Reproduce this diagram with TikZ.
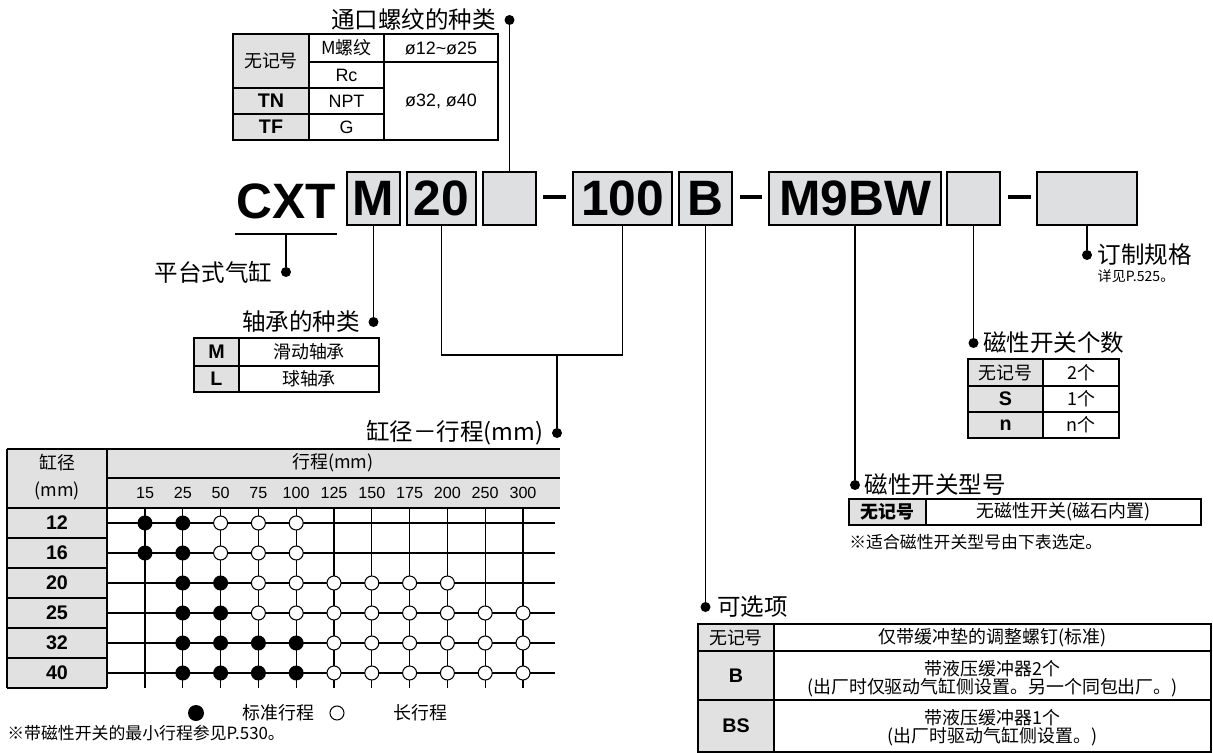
\documentclass[tikz,border=0pt]{standalone}
\usepackage{fontspec}
\setmainfont{Noto Sans CJK SC}
\newfontfamily\lat{Liberation Sans}
\usetikzlibrary{positioning}

\definecolor{boxgray}{RGB}{221,223,225}
\definecolor{cellgray}{RGB}{225,225,225}

\newcommand{\codefont}{\lat\bfseries\fontsize{28.3}{30}\selectfont}
\newcommand{\lblfont}{\fontsize{13.4}{15}\selectfont}
\newcommand{\cellfont}{\fontsize{10.2}{10.4}\selectfont}
\newcommand{\boldfont}{\lat\bfseries\fontsize{11.2}{12}\selectfont}
\newcommand{\numfont}{\lat\fontsize{9.2}{10}\selectfont}
\newcommand{\notefont}{\fontsize{9.6}{10}\selectfont}
\newcommand{\pagefont}{\fontsize{8}{9}\selectfont}

\tikzset{
  codebox/.style={draw, line width=1.4pt, fill=boxgray, minimum height=1.06cm, inner sep=0pt, font=\codefont},
  dot/.style={circle, fill=black, inner sep=0pt, minimum size=0.2cm},
  lbl/.style={inner sep=0pt, font=\lblfont},
  cell/.style={inner sep=0pt, font=\cellfont},
  boldcell/.style={inner sep=0pt, font=\boldfont},
  numcell/.style={inner sep=0pt, font=\numfont},
  notecell/.style={inner sep=0pt, font=\notefont},
  std/.style={circle, fill=black, inner sep=0pt, minimum size=0.3cm},
  lng/.style={circle, draw, fill=white, line width=0.6pt, inner sep=0pt, minimum size=0.28cm},
  link/.style={line width=1.1pt},
  tabline/.style={line width=0.6pt},
  toprule/.style={line width=1.2pt},
  gridline/.style={line width=0.75pt}
}

\begin{document}
\begin{tikzpicture}[x=0.02cm, y=-0.02cm]
    \useasboundingbox (0,0) rectangle (1213,753);

    % Model code
    \node[inner sep=0pt, font=\codefont, anchor=base] (cxt) at (286,218) {CXT};
    \draw[line width=1.3pt] (235,234) -- (337,234);
    \coordinate (cxtU) at (286,234);
    \node[codebox, minimum width=1.06cm] (bM) at (373.5,198.5) {M};
    \node[codebox, minimum width=1.38cm] (b20) at (441.5,198.5) {20};
    \node[codebox, minimum width=1.06cm] (bPort) at (509.5,198.5) {};
    \node[inner sep=0pt] (h1) at (554.5,197) {\rule{0.46cm}{2.2pt}};
    \node[codebox, minimum width=1.98cm] (b100) at (622.5,198.5) {100};
    \node[codebox, minimum width=1.06cm] (bB) at (705.5,198.5) {B};
    \node[inner sep=0pt] (h2) at (751,197) {\rule{0.44cm}{2.2pt}};
    \node[codebox, minimum width=3.44cm] (bSw) at (855,198.5) {M9BW};
    \node[codebox, minimum width=1.06cm] (bNum) at (973.5,198.5) {};
    \node[inner sep=0pt] (h3) at (1019.5,197) {\rule{0.46cm}{2.2pt}};
    \node[codebox, minimum width=2.0cm] (bMade) at (1087,198.5) {};

    % Dots at the label ends
    \node[dot] (dPort) at (509.5,20) {};
    \node[dot] (dCyl) at (286,272) {};
    \node[dot] (dBear) at (373.5,322) {};
    \node[dot] (dBore) at (557,433) {};
    \node[dot] (dOpt) at (705.5,607) {};
    \node[dot] (dSwT) at (855,485) {};
    \node[dot] (dNum) at (973.5,343) {};
    \node[dot] (dMade) at (1087,255) {};
    \coordinate (jBore) at (557,355);

    % Connectors
    \draw[link] (bPort) -- (dPort);
    \draw[link] (cxtU) -- (dCyl);
    \draw[link] (bM) -- (dBear);
    \draw[link] (b20.south) |- (jBore) -| (b100.south);
    \draw[link] (jBore) -- (dBore);
    \draw[link] (bB) -- (dOpt);
    \draw[link] (bSw) -- (dSwT);
    \draw[link] (bNum) -- (dNum);
    \draw[link] (bMade) -- (dMade);

    % Labels
    \node[lbl, left=0.16cm of dPort] (tPort) {通口螺纹的种类};
    \node[lbl, left=0.16cm of dCyl] (tCyl) {平台式气缸};
    \node[lbl, left=0.16cm of dBear] (tBear) {轴承的种类};
    \node[lbl, left=0.16cm of dBore] (tBore) {缸径－行程(mm)};
    \node[lbl, right=0.12cm of dOpt] (tOpt) {可选项};
    \node[lbl, right=0.08cm of dSwT] (tSwT) {磁性开关型号};
    \node[lbl, right=0.08cm of dNum] (tNum) {磁性开关个数};
    \node[lbl, right=0.1cm of dMade] (tMade) {订制规格};
    \node[inner sep=0pt, font=\pagefont, anchor=north west] (tPage) at ([yshift=-2pt]tMade.south west) {详见P.525。};

    % Port thread table
    \fill[cellgray] (233,34) rectangle (309,140);
    \draw[tabline] (233,34) rectangle (498,140);
    \draw[toprule] (233,34) -- (498,34);
    \draw[tabline] (309,34) -- (309,140) (384,34) -- (384,140);
    \draw[tabline] (309,62) -- (498,62) (233,88) -- (384,88) (233,114) -- (384,114);
    \node[cell] (p1) at (271,61) {无记号};
    \node[boldcell] (p2) at (271,101) {TN};
    \node[boldcell] (p3) at (271,127) {TF};
    \node[cell] (p4) at (346.5,48) {M螺纹};
    \node[cell] (p5) at (346.5,75) {\lat Rc};
    \node[cell] (p6) at (346.5,101) {\lat NPT};
    \node[cell] (p7) at (346.5,127) {\lat G};
    \node[cell] (p8) at (441,48) {\lat ø12\char`~ø25};
    \node[cell] (p9) at (441,101) {\lat ø32, ø40};

    % Bearing table
    \fill[cellgray] (194,338) rectangle (239,392);
    \draw[tabline] (194,338) rectangle (379,392);
    \draw[toprule] (194,338) -- (379,338);
    \draw[tabline] (239,338) -- (239,392) (194,366) -- (379,366);
    \node[boldcell] (q1) at (216.5,352) {M};
    \node[boldcell] (q2) at (216.5,379) {L};
    \node[cell] (q3) at (309,352) {滑动轴承};
    \node[cell] (q4) at (309,379) {球轴承};

    % Bore and stroke table
    \fill[cellgray] (7,449) rectangle (107,688);
    \fill[cellgray] (107,449) rectangle (560,508);
    \draw[toprule] (7,449) -- (560,449);
    \draw[tabline] (7,449) -- (7,688) (107,449) -- (107,688);
    \draw[tabline] (107,478) -- (560,478) (7,508) -- (560,508);
    \foreach \y in {538,568,...,688}
        \draw[tabline] (7,\y) -- (107,\y);
    \node[cell] (sBoreA) at (57,463) {缸径};
    \node[cell] (sBoreB) at (57,491) {(mm)};
    \node[cell] (sStroke) at (333,463) {行程(mm)};
    \foreach \s [count=\j from 0] in {15,25,50,75,100,125,150,175,200,250,300} {
        \node[numcell] (s\j) at (145+37.8*\j,493) {\s};
        \draw[gridline] (145+37.8*\j,508) -- (145+37.8*\j,688);
    }
    \foreach \b [count=\i from 0] in {12,16,20,25,32,40} {
        \node[boldcell] (r\i) at (57,523+30*\i) {\b};
        \draw[gridline] (107,523+30*\i) -- (555,523+30*\i);
    }
    % row/first/last standard/last long
    \foreach \i/\a/\f/\z in {0/0/1/4, 1/0/1/4, 2/1/2/8, 3/1/2/10, 4/1/4/10, 5/1/4/10} {
        \foreach \j in {\a,...,\f}
            \node[std] (c\i-\j) at (145+37.8*\j,523+30*\i) {};
        \pgfmathtruncatemacro\g{\f+1}
        \foreach \j in {\g,...,\z}
            \node[lng] (c\i-\j) at (145+37.8*\j,523+30*\i) {};
    }

    % Legend and note
    \node[std, minimum size=0.32cm] (legStd) at (196,713) {};
    \node[cell] (tStd) at (278.5,713) {标准行程};
    \node[lng] (legLng) at (337,713) {};
    \node[cell] (tLng) at (420.5,713) {长行程};
    \node[notecell, anchor=west] (nStroke) at (7,733) {※带磁性开关的最小行程参见P.530。};

    % Switch count table
    \fill[cellgray] (968,359) rectangle (1043,438);
    \draw[tabline] (968,359) rectangle (1119,438);
    \draw[toprule] (968,359) -- (1119,359);
    \draw[tabline] (1043,359) -- (1043,438) (968,386) -- (1119,386) (968,412) -- (1119,412);
    \node[cell] (n1) at (1005.5,372.5) {无记号};
    \node[boldcell] (n2) at (1005.5,399) {S};
    \node[boldcell] (n3) at (1005.5,425) {n};
    \node[cell] (n4) at (1081,372.5) {2个};
    \node[cell] (n5) at (1081,399) {1个};
    \node[cell] (n6) at (1081,425) {n个};

    % Switch type table
    \fill[cellgray] (849,499) rectangle (926,525);
    \draw[tabline] (849,499) rectangle (1201,525);
    \draw[toprule] (849,499) -- (1201,499);
    \draw[tabline] (926,499) -- (926,525);
    \node[cell, font=\cellfont\bfseries] (w1) at (887.5,512) {无记号};
    \node[cell] (w2) at (1063.5,512) {无磁性开关(磁石内置)};
    \node[notecell, anchor=west] (nSw) at (849,542) {※适合磁性开关型号由下表选定。};

    % Option table
    \fill[cellgray] (698,624) rectangle (774,752);
    \draw[tabline] (698,624) rectangle (1211,752);
    \draw[toprule] (698,624) -- (1211,624);
    \draw[tabline] (774,624) -- (774,752) (698,651) -- (1211,651) (698,700) -- (1211,700);
    \node[cell] (o1) at (736,637.5) {无记号};
    \node[boldcell] (o2) at (736,675.5) {B};
    \node[boldcell] (o3) at (736,726) {BS};
    \node[cell] (o4) at (992.5,637.5) {仅带缓冲垫的调整螺钉(标准)};
    \node[cell, align=center] (o5) at (992.5,678.5) {带液压缓冲器2个\\(出厂时仅驱动气缸侧设置。另一个同包出厂。)};
    \node[cell, align=center] (o6) at (992.5,727.5) {带液压缓冲器1个\\(出厂时驱动气缸侧设置。)};

\end{tikzpicture}
\end{document}
